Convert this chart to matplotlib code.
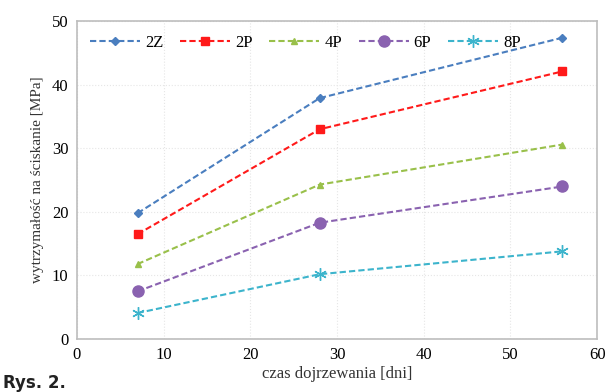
import matplotlib.pyplot as plt
import numpy as np

plt.rcParams['font.family'] = ['Liberation Serif', 'DejaVu Serif']

days = [7, 28, 56]
s_2z = [19.8, 37.9, 47.4]
s_2p = [16.5, 33.0, 42.1]
s_4p = [11.8, 24.3, 30.6]
s_6p = [7.5, 18.3, 24.0]
s_8p = [4.1, 10.2, 13.8]

series = [
    ('2Z', s_2z, '#4a7ebf', 'D', 4),
    ('2P', s_2p, '#ff1a1a', 's', 6),
    ('4P', s_4p, '#99c04a', '^', 5),
    ('6P', s_6p, '#8a62b0', 'o', 8),
    ('8P', s_8p, '#3cb4cc', (6, 2, 0), 9),
]

fig = plt.figure(figsize=(6.15, 3.92), dpi=100)
ax = fig.add_axes([0.125, 0.135, 0.846, 0.811])

for name, vals, col, mk, ms in series:
    ax.plot(days, vals, linestyle=(0, (3, 1.5)), linewidth=1.5, color=col,
            marker=mk, markersize=ms, markeredgecolor=col, markerfacecolor=col,
            markeredgewidth=1.0, label=name)

ax.set_xlim(0, 60)
ax.set_ylim(0, 50)
ax.set_xticks(np.arange(0, 61, 10))
ax.set_yticks(np.arange(0, 51, 10))
ax.grid(True, color='#e6e6e6', linestyle=':', linewidth=0.8)
ax.tick_params(length=0, labelsize=12, pad=6)
for sp in ax.spines.values():
    sp.set_color('#bdbdbd')
    sp.set_linewidth(1.2)

ax.set_xlabel('czas dojrzewania [dni]', fontsize=12, labelpad=2, color='#333333')
ax.set_ylabel('wytrzymałość na ściskanie [MPa]', fontsize=11, labelpad=6, color='#333333')

ax.legend(loc='upper left', ncol=5, frameon=False, fontsize=12, handlelength=3,
          columnspacing=1.0, handletextpad=0.3, borderaxespad=0.4,
          bbox_to_anchor=(0.0, 1.0))

fig.text(0.005, 0.01, 'Rys. 2.', fontsize=12, fontweight='bold',
         family='DejaVu Sans', color='#222222')

fig.savefig('out.png', dpi=100)
